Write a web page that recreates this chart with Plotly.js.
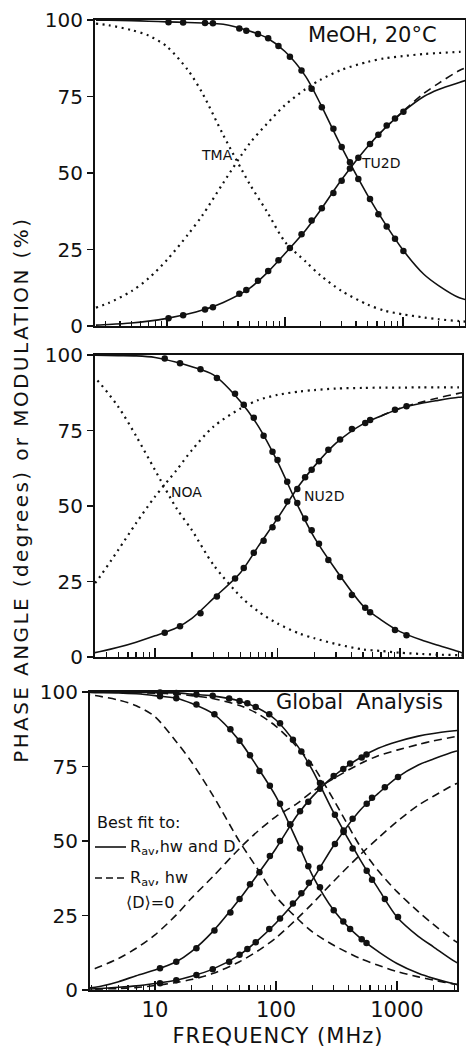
<!DOCTYPE html>
<html>
<head>
<meta charset="utf-8">
<script src="https://cdn.plot.ly/plotly-3.0.1.min.js"></script>
<style>html,body{margin:0;padding:0;background:#fff;}#chart{width:466px;height:1048px;}</style>
</head>
<body>
<div id="chart"></div>
<script>
// ---------- shared frequency grid (MHz) for the fitted / reference curves ----------
const freq = [2.5, 3.2, 5, 7, 10, 15, 20, 30, 50, 70, 100, 150, 200, 300, 500, 700, 1000, 1500, 2000, 3000, 3500];

// ---------- Panel 1 : MeOH, 20°C  (TMA donor alone, TU2D donor-acceptor) ----------
const tmaMod = [98.8, 98.3, 96.7, 94.9, 91.3, 83.7, 76, 62.4, 46.5, 37.5, 27.5, 21, 16.5, 11.5, 7, 5, 3.8, 2.8, 2.2, 1.6, 1.4];
const tmaPh  = [6, 7.5, 11.4, 15.6, 21.6, 29.8, 36.2, 46.8, 59.6, 66, 72.2, 77.5, 80.5, 83.7, 86.3, 87.5, 88.2, 88.9, 89.2, 89.6, 89.8];
const tu2dMod = [99.9, 99.9, 99.8, 99.6, 99.4, 99.2, 99.0, 98.6, 96.4, 94.2, 89.7, 81.5, 72.5, 58.6, 42.8, 33.6, 24.8, 16.9, 13.2, 9.2, 8.5];
const tu2dPh  = [0.3, 0.5, 1.0, 1.6, 2.5, 3.9, 5.2, 7.7, 12.3, 17.3, 23.7, 31.4, 37.9, 47.7, 58.6, 64.6, 70.0, 75.0, 77.3, 79.6, 80.4];
const tu2dDashF  = [500, 700, 1000, 1500, 2000, 3000, 3500];
const tu2dDashPh = [58.6, 64.6, 70.2, 76.0, 79.3, 83.5, 84.6];
const tu2dDataF   = [10.3, 13.7, 21, 24.5, 41, 47, 59, 72, 88, 110, 138, 168, 205, 257, 302, 355, 418, 525, 618, 727, 855, 1007];
const tu2dDataMod = [99.3, 99.2, 99.0, 98.9, 97.2, 96.5, 95.4, 94, 91.5, 88, 83.5, 77.5, 71.5, 64.5, 58.5, 53.5, 48, 41.5, 36.5, 32.5, 28.5, 24.5];
const tu2dDataPh  = [2.5, 3.5, 5.4, 6.1, 10.5, 11.8, 14.8, 18, 21.5, 25.5, 30, 34.5, 38.5, 43.5, 47.5, 51.5, 55, 59.5, 62.5, 65.5, 67.8, 70];

// ---------- Panel 2 : NOA donor alone, NU2D donor-acceptor ----------
const noaMod = [95, 92.5, 82.9, 73.2, 61.9, 49.2, 42, 30.5, 20, 15, 11.1, 7.8, 6.2, 4.3, 2.5, 2, 1.4, 1, 0.8, 0.6, 0.5];
const noaPh  = [20, 24.2, 35.4, 44.3, 53.1, 61.9, 68.5, 76.3, 82.3, 85.1, 86.8, 87.9, 88.4, 88.9, 89.1, 89.2, 89.2, 89.3, 89.3, 89.3, 89.3];
const nu2dMod = [99.9, 99.9, 99.8, 99.7, 99.2, 97.6, 96.1, 93.4, 84.5, 76.3, 64.7, 49.2, 39.5, 28.8, 16.9, 12.3, 8.4, 5.6, 4.0, 1.8, 0.8];
const nu2dPh  = [1.0, 1.4, 3.2, 4.9, 7.0, 9.7, 12.8, 19.4, 28.0, 36.8, 45.9, 56.8, 63.2, 70.8, 77.2, 79.8, 82.3, 84.0, 84.9, 86.0, 86.2];
const nu2dDashF  = [700, 1000, 1500, 2000, 3000, 3500];
const nu2dDashPh = [79.8, 82.4, 84.4, 85.7, 87.3, 87.7];
const nu2dDataF   = [12, 16, 23.5, 32, 45, 53, 64, 77, 91, 100, 120, 145, 168, 190, 218, 260, 324, 405, 520, 570, 910, 1130];
const nu2dDataMod = [98.8, 97.3, 95.3, 92.4, 87.2, 83.5, 79.2, 73.3, 68, 65.2, 58, 51, 45.9, 42, 37.5, 32.1, 26.5, 20.5, 16.3, 14.8, 8.9, 7.2];
const nu2dDataPh  = [8, 10.2, 14.5, 20, 26, 29.5, 34.5, 38.5, 43, 45.9, 51.5, 55.6, 59.5, 62, 64.8, 68.6, 72, 75.5, 77.5, 78.5, 81.9, 83];

// ---------- Panel 3 : Global analysis ----------
// solid: best fit to Rav, hw and D ; dashed: Rav, hw with <D>=0
const gSolidModA = [99.9, 99.8, 99.7, 99.4, 98.8, 97.9, 96.2, 92.8, 83.6, 74.9, 64.9, 49.8, 38.5, 26.8, 17.3, 12.9, 8.9, 5.6, 3.9, 2.0, 1.5];
const gSolidPhA  = [0.6, 0.9, 2.8, 4.8, 6.7, 9.5, 12.9, 19.6, 30.5, 38.6, 47.5, 58.7, 64.9, 71.8, 78.0, 81.1, 83.3, 85.2, 86.1, 87.0, 87.3];
const gDashModA  = [99.2, 98.8, 97.3, 95.4, 91.7, 83.3, 76.6, 65.4, 49.8, 40.8, 31.3, 24, 19.5, 15, 10.5, 8.3, 6.2, 4.4, 3.3, 2.0, 1.7];
const gDashPhA   = [6, 7.2, 10.6, 14, 18.5, 25.2, 30.8, 38, 47.5, 53.1, 58.2, 62.6, 66.6, 71, 76, 78.6, 80.5, 82.4, 83.6, 85, 85.5];
const gSolidModB = [100, 100, 99.9, 99.9, 99.8, 99.7, 99.3, 98.7, 97, 94.7, 90.6, 82, 73.8, 59.5, 43.5, 34, 24.5, 18, 14.5, 9.6, 8.3];
const gSolidPhB  = [0.3, 0.4, 0.9, 1.4, 2.2, 3.3, 4.6, 7, 11.8, 16.5, 22.5, 30.5, 37, 48.5, 60.5, 66, 71.3, 75.5, 77.5, 80, 80.6];
const gDashModB  = [100, 100, 99.9, 99.8, 99.6, 99.3, 98.8, 97.8, 95.5, 92.8, 88.5, 81.5, 75.5, 63.8, 48, 40, 33, 26.3, 22, 16.5, 15];
const gDashPhB   = [0.2, 0.3, 0.5, 0.8, 1.5, 2.5, 3.5, 5.5, 9.5, 13, 17.5, 24, 29, 36.5, 45.5, 51, 56.5, 62, 65, 69, 70];
const gDataFA   = [11, 15, 22, 31, 42, 50, 61, 73, 89, 108, 131, 158, 185, 231, 300, 360, 410, 511, 560];
const gDataModA = [98.6, 97.9, 95.8, 92.5, 87.5, 83.6, 78.8, 73.5, 68.5, 62.5, 55.5, 47.5, 41.5, 34.5, 26.8, 23, 20.5, 17, 15.8];
const gDataPhA  = [7.3, 9.5, 14, 20, 26, 30.5, 35.5, 39.5, 45, 50, 55.5, 60, 63.2, 67.5, 71.8, 74.2, 76, 78, 79];
const gDataFB   = [11, 15, 22, 30, 41, 50, 58, 68, 88, 108, 138, 162, 187, 231, 307, 362, 430, 562, 622, 794, 1020];
const gDataModB = [99.8, 99.7, 99.2, 98.7, 97.8, 97, 96.2, 95, 92.5, 89.5, 84, 80, 76, 69.5, 58.8, 53, 47.5, 40, 37, 30.5, 24.5];
const gDataPhB  = [2.3, 3.3, 5, 7, 9.5, 11.8, 13.8, 16, 20.5, 24, 29, 32.5, 36, 41, 49, 53.5, 57.5, 62.5, 64.5, 68, 71.5];

// ---------- axis tick labels ----------
const yTickVals = [0, 25, 50, 75, 100];
const yTickText = ['0', '25', '50', '75', '100'];
const xMajor = [10, 100, 1000];
const xMajorText = ['10', '100', '1000'];
const xMinor = [2,3,4,5,6,7,8,9,20,30,40,50,60,70,80,90,200,300,400,500,600,700,800,900,2000,3000];

// ---------- helpers ----------
const BLACK = '#111';
function curve(x, y, ax, style) {
  const dash = style === 'dot' ? '2px,4.5px' : style === 'dash' ? '8px,5px' : 'solid';
  const width = style === 'dot' ? 2.2 : 1.6;
  return {x: x, y: y, xaxis: ax[0], yaxis: ax[1], type: 'scatter', mode: 'lines',
          line: {color: BLACK, width: width, dash: dash, shape: 'spline', smoothing: 0.8},
          hoverinfo: 'skip', showlegend: false};
}
function dots(x, y, ax) {
  return {x: x, y: y, xaxis: ax[0], yaxis: ax[1], type: 'scatter', mode: 'markers',
          marker: {color: BLACK, size: 6.5, symbol: 'circle'}, hoverinfo: 'skip', showlegend: false, cliponaxis: false};
}
const A1 = ['x', 'y'], A2 = ['x2', 'y2'], A3 = ['x3', 'y3'];

const traces = [
  curve(freq, tmaMod, A1, 'dot'), curve(freq, tmaPh, A1, 'dot'),
  curve(tu2dDashF, tu2dDashPh, A1, 'dash'),
  curve(freq, tu2dMod, A1, 'solid'), curve(freq, tu2dPh, A1, 'solid'),
  dots(tu2dDataF, tu2dDataMod, A1), dots(tu2dDataF, tu2dDataPh, A1),

  curve(freq, noaMod, A2, 'dot'), curve(freq, noaPh, A2, 'dot'),
  curve(nu2dDashF, nu2dDashPh, A2, 'dash'),
  curve(freq, nu2dMod, A2, 'solid'), curve(freq, nu2dPh, A2, 'solid'),
  dots(nu2dDataF, nu2dDataMod, A2), dots(nu2dDataF, nu2dDataPh, A2),

  curve(freq, gDashModA, A3, 'dash'), curve(freq, gDashPhA, A3, 'dash'),
  curve(freq, gDashModB, A3, 'dash'), curve(freq, gDashPhB, A3, 'dash'),
  curve(freq, gSolidModA, A3, 'solid'), curve(freq, gSolidPhA, A3, 'solid'),
  curve(freq, gSolidModB, A3, 'solid'), curve(freq, gSolidPhB, A3, 'solid'),
  dots(gDataFA, gDataModA, A3), dots(gDataFA, gDataPhA, A3),
  dots(gDataFB, gDataModB, A3), dots(gDataFB, gDataPhB, A3)
];

const W = 466, H = 1048;
const px = v => v / W, py = v => 1 - v / H;
const FONT = 'DejaVu Sans, Liberation Sans, sans-serif';

function xAxis(range, dom, anchor, labels) {
  return {type: 'log', range: range, domain: dom, anchor: anchor,
    showline: true, mirror: true, linecolor: BLACK, linewidth: 2,
    showgrid: false, zeroline: false,
    tickmode: 'array', tickvals: xMajor, ticktext: xMajorText, showticklabels: labels,
    ticks: 'inside', ticklen: 9, tickwidth: 1.5, tickcolor: BLACK,
    tickfont: {family: FONT, size: 21, color: BLACK},
    minor: {tickmode: 'array', tickvals: xMinor, ticks: 'inside', ticklen: 5, tickwidth: 1.3, tickcolor: BLACK, showgrid: false}};
}
function yAxis(dom, anchor) {
  return {range: [0, 100], domain: dom, anchor: anchor,
    showline: true, mirror: true, linecolor: BLACK, linewidth: 2,
    showgrid: false, zeroline: false,
    tickmode: 'array', tickvals: yTickVals, ticktext: yTickText,
    ticks: 'outside', ticklen: 6, tickwidth: 1.5, tickcolor: BLACK,
    tickfont: {family: FONT, size: 20, color: BLACK}};
}

function note(text, x, y, size, xanchor, extra) {
  return Object.assign({text: text, xref: 'paper', yref: 'paper', x: px(x), y: py(y),
    xanchor: xanchor || 'center', yanchor: 'middle', showarrow: false,
    font: {family: FONT, size: size, color: BLACK}}, extra || {});
}

const layout = {
  width: W, height: H, margin: {l: 0, r: 0, t: 0, b: 0},
  paper_bgcolor: '#fff', plot_bgcolor: '#fff', showlegend: false,
  xaxis:  xAxis([0.39, 3.525], [px(95), px(465)], 'y', false),
  yaxis:  yAxis([py(326), py(20)], 'x'),
  xaxis2: xAxis([0.51, 3.506], [px(95), px(462)], 'y2', false),
  yaxis2: yAxis([py(657), py(355)], 'x2'),
  xaxis3: xAxis([0.463, 3.496], [px(90), px(457)], 'y3', true),
  yaxis3: yAxis([py(990), py(692)], 'x3'),
  annotations: [
    note('MeOH, 20°C', 372, 35, 21),
    note('TMA', 217, 155, 14),
    note('TU2D', 381, 163, 14),
    note('NOA', 186, 492, 14),
    note('NU2D', 324, 496, 14),
    note('Global\u00A0\u00A0Analysis', 359, 702, 21),
    note('Best fit to:', 95, 822, 16, 'left'),
    note('R<sub>av</sub>,hw and D', 128, 847, 16, 'left'),
    note('R<sub>av</sub>, hw', 128, 878, 16, 'left'),
    note('\u27E8D\u27E9=0', 124, 902, 16, 'left'),
    note('FREQUENCY (MHz)', 278, 1036, 21),
    note('PHASE ANGLE (degrees) or MODULATION (%)', 21, 490, 20, 'center', {textangle: -90})
  ],
  shapes: [
    {type: 'line', xref: 'paper', yref: 'paper', x0: px(95), x1: px(126), y0: py(847), y1: py(847),
     line: {color: BLACK, width: 1.6}},
    {type: 'line', xref: 'paper', yref: 'paper', x0: px(95), x1: px(127), y0: py(878), y1: py(878),
     line: {color: BLACK, width: 1.6, dash: '7px,4px'}}
  ]
};

Plotly.newPlot('chart', traces, layout, {staticPlot: true, displayModeBar: false}).then(function () {
  document.querySelectorAll('.annotation-text').forEach(function (el) {
    const t = el.textContent;
    if (t.indexOf('PHASE') === 0) el.style.letterSpacing = '2.4px';
    else if (t.indexOf('FREQUENCY') === 0) el.style.letterSpacing = '1px';
  });
});
</script>
</body>
</html>
